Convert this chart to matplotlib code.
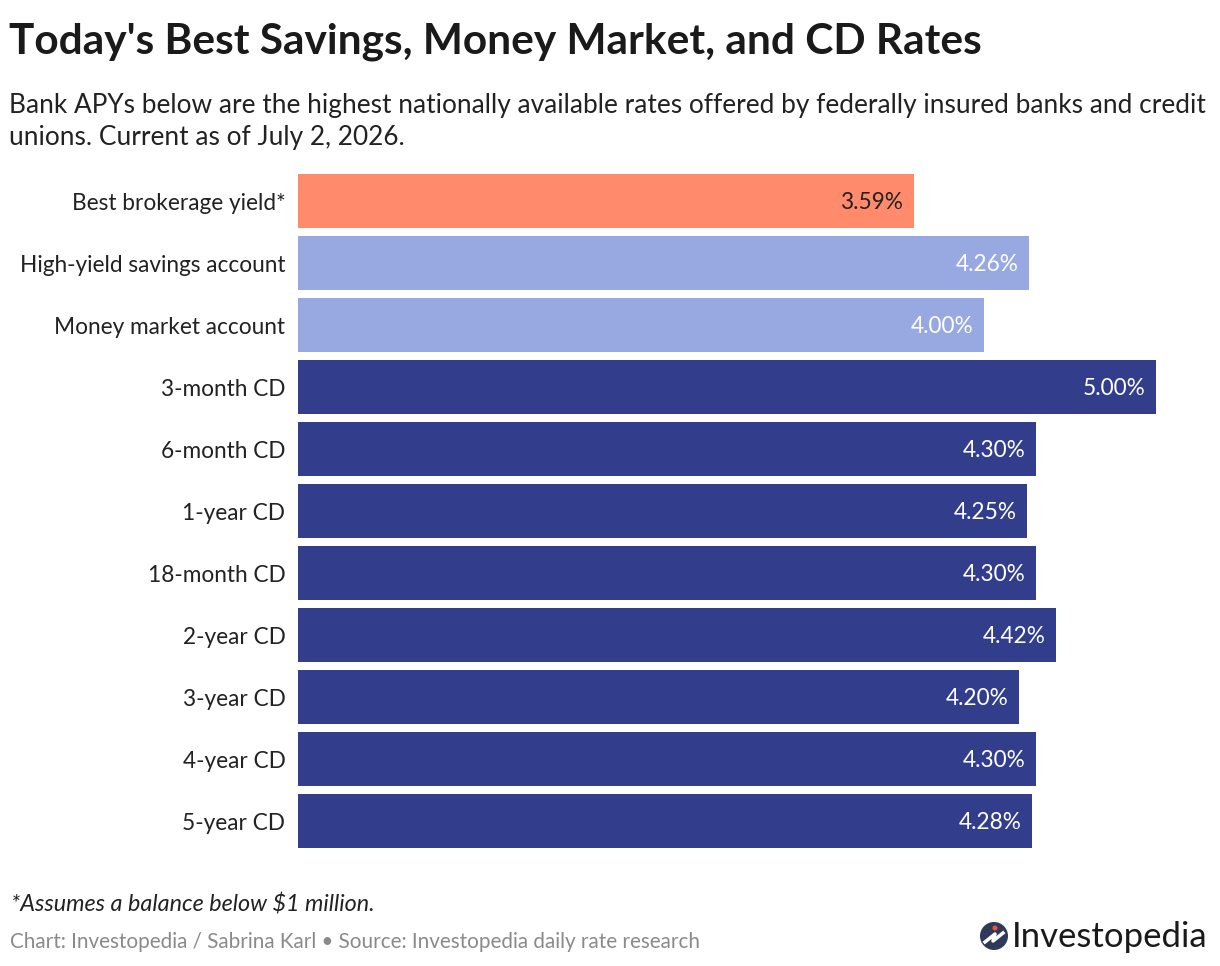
import matplotlib
matplotlib.use('Agg')
import matplotlib.pyplot as plt
from matplotlib.patches import Ellipse
import numpy as np

plt.rcParams['font.family'] = ['Lato', 'DejaVu Sans']

# data
categories = ['Best brokerage yield*', 'High-yield savings account', 'Money market account',
              '3-month CD', '6-month CD', '1-year CD', '18-month CD', '2-year CD',
              '3-year CD', '4-year CD', '5-year CD']
rates = [3.59, 4.26, 4.00, 5.00, 4.30, 4.25, 4.30, 4.42, 4.20, 4.30, 4.28]
groups = ['brokerage', 'bank', 'bank', 'cd', 'cd', 'cd', 'cd', 'cd', 'cd', 'cd', 'cd']

colors = {'brokerage': '#FF8A6C', 'bank': '#98A9E2', 'cd': '#323E8B'}
label_colors = {'brokerage': '#222222', 'bank': 'white', 'cd': 'white'}

W, H = 1220, 966
fig = plt.figure(figsize=(W / 100, H / 100), dpi=100)
fig.patch.set_facecolor('white')

# axes placed so bars run from x=298px, 5.00% reaches 1156px
ax = fig.add_axes([298 / W, 1 - 848 / H, 858 / W, 674 / H])
y = np.arange(len(categories))
bar_h = 54 / 62
ax.barh(y, rates, height=bar_h, color=[colors[g] for g in groups], zorder=2)
ax.set_xlim(0, 5.0)
ax.set_ylim(len(categories) - 1 + bar_h / 2, -bar_h / 2)

for yi, r, g in zip(y, rates, groups):
    ax.text(r - 0.062, yi + 0.02, f'{r:.2f}%', ha='right', va='center',
            fontsize=16.3, color=label_colors[g])

ax.set_yticks(y)
ax.set_yticklabels(categories, fontsize=16.3, color='#222222')
ax.tick_params(axis='y', length=0, pad=9)
ax.set_xticks([])
for s in ax.spines.values():
    s.set_visible(False)

# title and texts
fig.text(9 / W, 1 - 42 / H, "Today's Best Savings, Money Market, and CD Rates",
         fontsize=30.5, fontweight='bold', color='#1a1a1a', va='center')
fig.text(9 / W, 1 - 105 / H,
         'Bank APYs below are the highest nationally available rates offered by federally insured banks and credit',
         fontsize=18.9, color='#222222', va='center')
fig.text(9 / W, 1 - 138 / H, 'unions. Current as of July 2, 2026.',
         fontsize=18.9, color='#222222', va='center')
fig.text(11 / W, 1 - 904 / H, '*Assumes a balance below $1 million.',
         fontsize=16.8, style='italic', color='#222222', va='center')
fig.text(10 / W, 1 - 942 / H,
         'Chart: Investopedia / Sabrina Karl \u2022 Source: Investopedia daily rate research',
         fontsize=14.9, color='#8a8a8a', va='center')

# logo
lx, ly = 994, 936
fig.patches.append(Ellipse((lx / W, 1 - ly / H), 28 / W, 28 / H, transform=fig.transFigure,
                           facecolor='#2f3a5a', edgecolor='none'))
fig.lines.append(plt.Line2D([(lx - 9) / W, (lx + 1) / W, (lx - 1) / W, (lx + 9) / W],
                            [1 - (ly + 6) / H, 1 - (ly - 2) / H, 1 - (ly + 5) / H, 1 - (ly - 3) / H],
                            transform=fig.transFigure, color='white', lw=2.5))
fig.patches.append(Ellipse(((lx + 1) / W, 1 - (ly - 8) / H), 5 / W, 5 / H, transform=fig.transFigure,
                           facecolor='#f0562b', edgecolor='none'))
fig.text(1012 / W, 1 - 937 / H, 'Investopedia', fontsize=25, color='#1a1a1a', va='center')

fig.savefig('out.png', dpi=100)
